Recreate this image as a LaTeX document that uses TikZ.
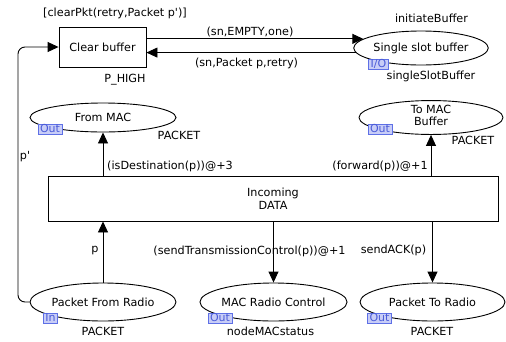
\documentclass[tikz,border=0pt]{standalone}
\usepackage{fontspec}
\setmainfont{DejaVu Sans}
\usetikzlibrary{shapes.geometric,arrows.meta}
\definecolor{tagfill}{HTML}{C8CDF7}
\definecolor{tagline}{HTML}{5E70E6}
\definecolor{tagtext}{HTML}{4A5BD8}
\tikzset{
  every node/.style={font=\fontsize{11.2}{13}\selectfont, inner sep=0pt},
  place/.style={ellipse, draw, line width=0.9pt, fill=white, align=center},
  trans/.style={rectangle, draw, line width=0.9pt, fill=white, align=center},
  arc/.style={line width=0.9pt, -{Triangle[length=11pt,width=10pt]}},
  tag/.style={draw=tagline, fill=tagfill, text=tagtext, line width=0.8pt,
    inner xsep=2pt, inner ysep=0.5pt, text height=8pt, text depth=1pt,
    font=\fontsize{11}{12}\selectfont},
  lbl/.style={anchor=center}
}
\begin{document}
\begin{tikzpicture}[x=1pt,y=-1pt]
\useasboundingbox (0,0) rectangle (506,341);

% transitions
\node[trans, minimum width=87pt, minimum height=40pt] (clear) at (102.5,47) {Clear buffer};
\node[trans, minimum width=450pt, minimum height=45pt] (incoming) at (273,198.5) {Incoming\\DATA};

% places
\node[place, minimum width=122pt, minimum height=34pt] (single) at (421,48) {Single slot buffer};
\node[place, minimum width=146pt, minimum height=29pt] (frommac) at (103,117.5) {From MAC};
\node[place, minimum width=144pt, minimum height=29pt] (tomac) at (431,117.5) {\raisebox{4pt}{\shortstack{To MAC\\Buffer}}};
\node[place, minimum width=146pt, minimum height=38pt] (pfr) at (103,302) {Packet From Radio};
\node[place, minimum width=147pt, minimum height=38pt] (macrc) at (273.5,302) {MAC Radio Control};
\node[place, minimum width=145pt, minimum height=38pt] (ptr) at (432.5,302) {Packet To Radio};

% port tags
\node[tag] (tagsingle) at (378.5,64) {I/O};
\node[tag] (tagfrommac) at (50,129) {Out};
\node[tag] (tagtomac) at (380,129) {Out};
\node[tag] (tagpfr) at (50.5,318) {In};
\node[tag] (tagmacrc) at (220,318) {Out};
\node[tag] (tagptr) at (379.5,318) {Out};

% inscriptions of transitions and places
\node[lbl] (guard) at (115,13) {[clearPkt(retry,Packet p\textquotesingle)]};
\node[lbl] (prio) at (125,80) {P\_HIGH};
\node[lbl] (init) at (431.5,18) {initiateBuffer};
\node[lbl] (ssb) at (431,76) {singleSlotBuffer};
\node[lbl] (t1) at (179,135) {PACKET};
\node[lbl] (t2) at (473,140) {PACKET};
\node[lbl] (t3) at (103,331) {PACKET};
\node[lbl] (t4) at (270.5,331) {nodeMACstatus};
\node[lbl] (t5) at (432,331) {PACKET};

% arcs between the buffer and its slot
\draw[arc] (single.171.6 -| clear.east) -- (single.171.6);
\draw[arc] (single.184.9) -- (single.184.9 -| clear.east);
\node[lbl] (a1) at (250,32) {(sn,EMPTY,one)};
\node[lbl] (a2) at (246.5,63) {(sn,Packet p,retry)};

% arcs of the incoming data transition
\draw[arc] (frommac.south |- incoming.north) -- (frommac.south);
\draw[arc] (tomac.south |- incoming.north) -- (tomac.south);
\draw[arc] (pfr.north) -- (pfr.north |- incoming.south);
\draw[arc] (macrc.north |- incoming.south) -- (macrc.north);
\draw[arc] (ptr.north |- incoming.south) -- (ptr.north);
\node[lbl] (a3) at (170,166) {(isDestination(p))@+3};
\node[lbl] (a4) at (380,166) {(forward(p))@+1};
\node[lbl] (a5) at (95,251) {p};
\node[lbl] (a6) at (249.5,251) {(sendTransmissionControl(p))@+1};
\node[lbl] (a7) at (393.5,250) {sendACK(p)};

% feedback of received packets to the buffer
\coordinate (bend) at (18,0);
\draw[arc, rounded corners=7pt] (pfr.west) -| (bend |- clear.west) -- (clear.west);
\node[lbl] (a8) at (25,157) {p\textquotesingle};
\end{tikzpicture}
\end{document}
